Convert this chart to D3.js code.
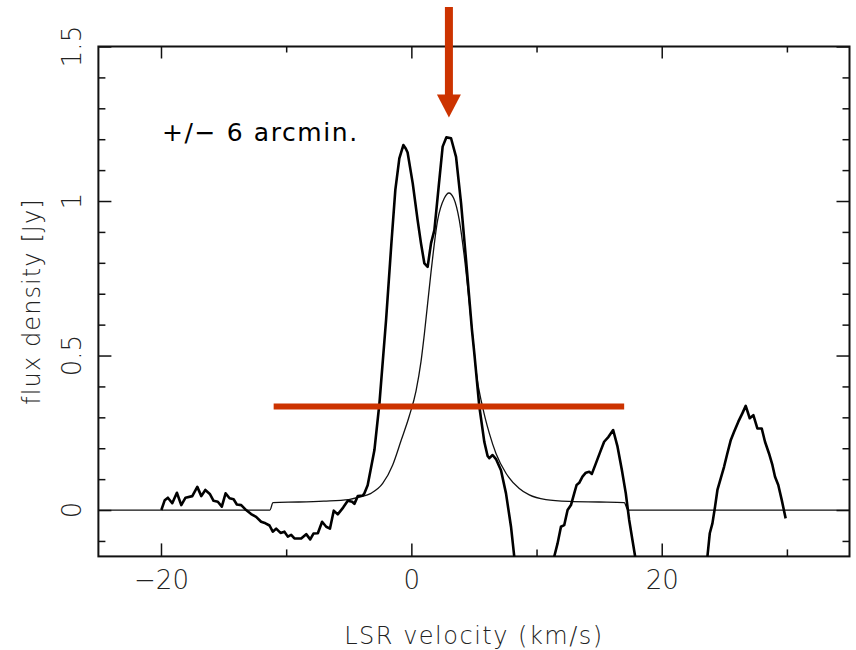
<!DOCTYPE html>
<html>
<head>
<meta charset="utf-8">
<script src="https://cdn.jsdelivr.net/npm/d3@7"></script>
<style>
  html, body { margin: 0; padding: 0; background: #fff; }
  svg { display: block; }
  text { font-family: "DejaVu Sans", sans-serif; }
</style>
</head>
<body>
<svg id="chart" width="856" height="650"></svg>
<script>
// Observed spectrum (thick line): LSR velocity [km/s] and flux density [Jy]
const obsVelocity = [
  -19.97, -19.7, -19.45, -19.1, -18.73, -18.38, -18.04, -17.5, -17.1, -16.78,
  -16.46, -16.1, -15.8, -15.46, -15.14, -14.84, -14.52, -14.2, -13.94, -13.59,
  -13.2, -12.8, -12.4, -12.0, -11.65, -11.33, -11.07, -10.8, -10.45, -10.14,
  -9.87, -9.6, -9.34, -8.8, -8.4, -8.08, -7.82, -7.47, -7.13, -6.8,
  -6.5, -6.2, -5.88, -5.45, -5.08, -4.73, -4.55, -4.28, -3.88, -3.75,
  -3.49, -2.95, -2.55, -2.02, -1.6, -1.28, -0.96, -0.64, -0.45, -0.3,
  0.11, 0.5, 0.77, 1.04, 1.3, 1.57, 1.84, 2.18, 2.5, 2.8,
  3.17, 3.57, 3.97, 4.37, 4.84, 5.03, 5.43, 5.83, 6.09, 6.23,
  6.49, 6.76, 7.16, 7.56, 7.96, 8.22, 8.5, 10.0, 11.2, 11.41,
  11.68, 11.95, 12.21, 12.48, 12.75, 13.01, 13.2, 13.41, 13.67, 13.94,
  14.21, 14.42, 14.74, 15.14, 15.4, 15.75, 16.12, 16.47, 16.82, 17.13,
  17.4, 17.66, 17.88, 18.2, 20.5, 23.3, 23.65, 23.84, 24.05, 24.26,
  24.45, 24.72, 24.98, 25.24, 25.52, 25.78, 26.12, 26.44, 26.71, 27.03,
  27.32, 27.64, 27.99, 28.25, 28.57, 28.84, 29.05, 29.31, 29.59, 29.9
];
const obsFlux = [
  0.0, 0.032, 0.04, 0.022, 0.056, 0.016, 0.04, 0.045, 0.075, 0.045,
  0.065, 0.052, 0.03, 0.027, 0.011, 0.054, 0.038, 0.035, 0.018, 0.016,
  0.0, -0.013, -0.022, -0.038, -0.043, -0.05, -0.07, -0.06, -0.074, -0.07,
  -0.086, -0.08, -0.092, -0.092, -0.078, -0.095, -0.076, -0.075, -0.038, -0.054,
  -0.06, -0.002, -0.014, 0.008, 0.03, 0.027, 0.02, 0.045, 0.047, 0.054,
  0.08, 0.194, 0.345, 0.615, 0.86, 1.036, 1.138, 1.181, 1.17, 1.157,
  1.057, 0.938, 0.863, 0.798, 0.787, 0.863, 0.906, 1.046, 1.176, 1.206,
  1.203, 1.143, 0.993, 0.809, 0.583, 0.507, 0.335, 0.22, 0.175, 0.168,
  0.178, 0.165, 0.129, 0.054, -0.054, -0.151, -0.25, -0.45, -0.22, -0.151,
  -0.108, -0.054, -0.049, 0.0, 0.016, 0.054, 0.081, 0.088, 0.108, 0.121,
  0.124, 0.117, 0.151, 0.194, 0.221, 0.237, 0.259, 0.205, 0.129, 0.054,
  -0.032, -0.097, -0.151, -0.25, -0.5, -0.25, -0.151, -0.075, -0.043, 0.011,
  0.065, 0.103, 0.14, 0.183, 0.227, 0.253, 0.286, 0.313, 0.337, 0.297,
  0.307, 0.264, 0.264, 0.221, 0.183, 0.146, 0.108, 0.081, 0.032, -0.027
];

// Model profile (thin line)
const modelVelocity = [
  -25, -11.3, -11.05, -9, -7, -5, -4.15, -3.22, -2.29, -1.49,
  -0.82, -0.16, 0.37, 0.77, 1.04, 1.57, 2.1, 2.63, 3.0, 3.38,
  3.83, 4.23, 4.63, 5.0, 5.16, 5.69, 6.23, 6.76, 7.56, 8.62,
  9.42, 10.75, 12.6, 15, 17.0, 17.3, 35
];
const modelFlux = [
  0, 0, 0.024, 0.026, 0.029, 0.034, 0.042, 0.054, 0.086, 0.146,
  0.225, 0.305, 0.385, 0.48, 0.57, 0.77, 0.938, 1.009, 1.026, 1.009,
  0.938, 0.82, 0.67, 0.52, 0.453, 0.334, 0.248, 0.183, 0.119, 0.07,
  0.049, 0.034, 0.028, 0.026, 0.024, 0, 0
];

// Axis ticks
const xMajorTicks = [-20, 0, 20];
const xMinorTicks = [-10, 10, 30];
const yMajorTicks = [0, 0.5, 1, 1.5];
const yMinorTicks = [-0.1, 0.1, 0.2, 0.3, 0.4, 0.6, 0.7, 0.8, 0.9, 1.1, 1.2, 1.3, 1.4];

// Annotations
const labelText = "+/\u2212 6 arcmin.";
const markerVelocity = 3.0;       // arrow position
const markerTipFlux = 1.27;       // arrow tip height
const barStart = -11, barEnd = 17, barFlux = 0.335;

const red = "#cc3300";
const ink = "#222";
const plotLeft = 98.4, plotRight = 849.5, plotTop = 46.5, plotBottom = 556.4;

const svg = d3.select("#chart");
const x = d3.scaleLinear().domain([-25, 35]).range([plotLeft, plotRight]);
const y = d3.scaleLinear().domain([-0.15, 1.5]).range([plotBottom, plotTop]);

// clip region for the curves
svg.append("defs").append("clipPath").attr("id", "plotClip")
  .append("rect").attr("x", plotLeft).attr("y", plotTop)
  .attr("width", plotRight - plotLeft).attr("height", plotBottom - plotTop);

function styleTicks(g, w) {
  g.select(".domain").remove();
  g.selectAll(".tick line").attr("stroke", "#111").attr("stroke-width", w);
}
const fmtX = d => d < 0 ? "\u2212" + (-d) : String(d);

// bottom axis
svg.append("g").attr("transform", `translate(0,${plotBottom})`)
  .call(d3.axisBottom(x).tickValues(xMajorTicks).tickSize(-13).tickPadding(14).tickFormat(fmtX))
  .call(g => styleTicks(g, 1.5))
  .call(g => g.selectAll(".tick text").attr("font-size", 26).attr("fill", ink)
    .attr("font-family", "'DejaVu Sans', sans-serif").attr("font-weight", 200));
svg.append("g").attr("transform", `translate(0,${plotBottom})`)
  .call(d3.axisBottom(x).tickValues(xMinorTicks).tickSize(-7).tickFormat(""))
  .call(g => styleTicks(g, 1.5));
// top axis
svg.append("g").attr("transform", `translate(0,${plotTop})`)
  .call(d3.axisTop(x).tickValues(xMajorTicks).tickSize(-12).tickFormat(""))
  .call(g => styleTicks(g, 1.5));
svg.append("g").attr("transform", `translate(0,${plotTop})`)
  .call(d3.axisTop(x).tickValues(xMinorTicks).tickSize(-6).tickFormat(""))
  .call(g => styleTicks(g, 1.5));
// left axis
svg.append("g").attr("transform", `translate(${plotLeft},0)`)
  .call(d3.axisLeft(y).tickValues(yMajorTicks).tickSize(-13).tickFormat(""))
  .call(g => styleTicks(g, 1.5));
svg.append("g").attr("transform", `translate(${plotLeft},0)`)
  .call(d3.axisLeft(y).tickValues(yMinorTicks).tickSize(-7).tickFormat(""))
  .call(g => styleTicks(g, 1.5));
// right axis
svg.append("g").attr("transform", `translate(${plotRight},0)`)
  .call(d3.axisRight(y).tickValues(yMajorTicks).tickSize(-13).tickFormat(""))
  .call(g => styleTicks(g, 1.5));
svg.append("g").attr("transform", `translate(${plotRight},0)`)
  .call(d3.axisRight(y).tickValues(yMinorTicks).tickSize(-7).tickFormat(""))
  .call(g => styleTicks(g, 1.5));

// rotated y tick labels
svg.append("g").selectAll("text").data(yMajorTicks).join("text")
  .attr("transform", d => `translate(81,${y(d)}) rotate(-90)`)
  .attr("text-anchor", "middle")
  .attr("font-size", 26).attr("font-weight", 200).attr("fill", ink)
  .text(d => String(d));

// frame
svg.append("rect").attr("x", plotLeft).attr("y", plotTop)
  .attr("width", plotRight - plotLeft).attr("height", plotBottom - plotTop)
  .attr("fill", "none").attr("stroke", "#111").attr("stroke-width", 2);

// axis titles
svg.append("text").attr("x", (plotLeft + plotRight) / 2).attr("y", 644)
  .attr("text-anchor", "middle").attr("font-size", 24).attr("font-weight", 200)
  .attr("letter-spacing", 1.5).attr("fill", ink).text("LSR velocity (km/s)");
svg.append("text").attr("transform", `translate(40,${(plotTop + plotBottom) / 2}) rotate(-90)`)
  .attr("text-anchor", "middle").attr("font-size", 24).attr("font-weight", 200)
  .attr("letter-spacing", 1.1).attr("fill", ink).text("flux density [Jy]");

// curves
const plot = svg.append("g").attr("clip-path", "url(#plotClip)");
const model = modelVelocity.map((v, i) => [v, modelFlux[i]]);
const obs = obsVelocity.map((v, i) => [v, obsFlux[i]]);

plot.append("path").datum(model)
  .attr("fill", "none").attr("stroke", "#111").attr("stroke-width", 1.3)
  .attr("d", d3.line().x(d => x(d[0])).y(d => y(d[1])).curve(d3.curveMonotoneX));
plot.append("path").datum(obs)
  .attr("fill", "none").attr("stroke", "#000").attr("stroke-width", 2.6)
  .attr("stroke-linejoin", "round")
  .attr("d", d3.line().x(d => x(d[0])).y(d => y(d[1])));

// label
svg.append("text").attr("x", 162).attr("y", 141)
  .attr("font-size", 25).attr("font-weight", 400).attr("letter-spacing", 1.6)
  .attr("fill", "#000").text(labelText);

// red horizontal bar
svg.append("line")
  .attr("x1", x(barStart)).attr("x2", x(barEnd))
  .attr("y1", y(barFlux)).attr("y2", y(barFlux))
  .attr("stroke", red).attr("stroke-width", 6);

// red arrow pointing down at the marker velocity
const ax = x(markerVelocity), tipY = y(markerTipFlux);
const headH = 23, headW = 24, shaftW = 8, shaftTop = 7;
svg.append("rect").attr("x", ax - shaftW / 2).attr("y", shaftTop)
  .attr("width", shaftW).attr("height", tipY - headH - shaftTop + 1).attr("fill", red);
svg.append("path")
  .attr("d", `M${ax - headW / 2},${tipY - headH} L${ax + headW / 2},${tipY - headH} L${ax},${tipY} Z`)
  .attr("fill", red);
</script>
</body>
</html>
